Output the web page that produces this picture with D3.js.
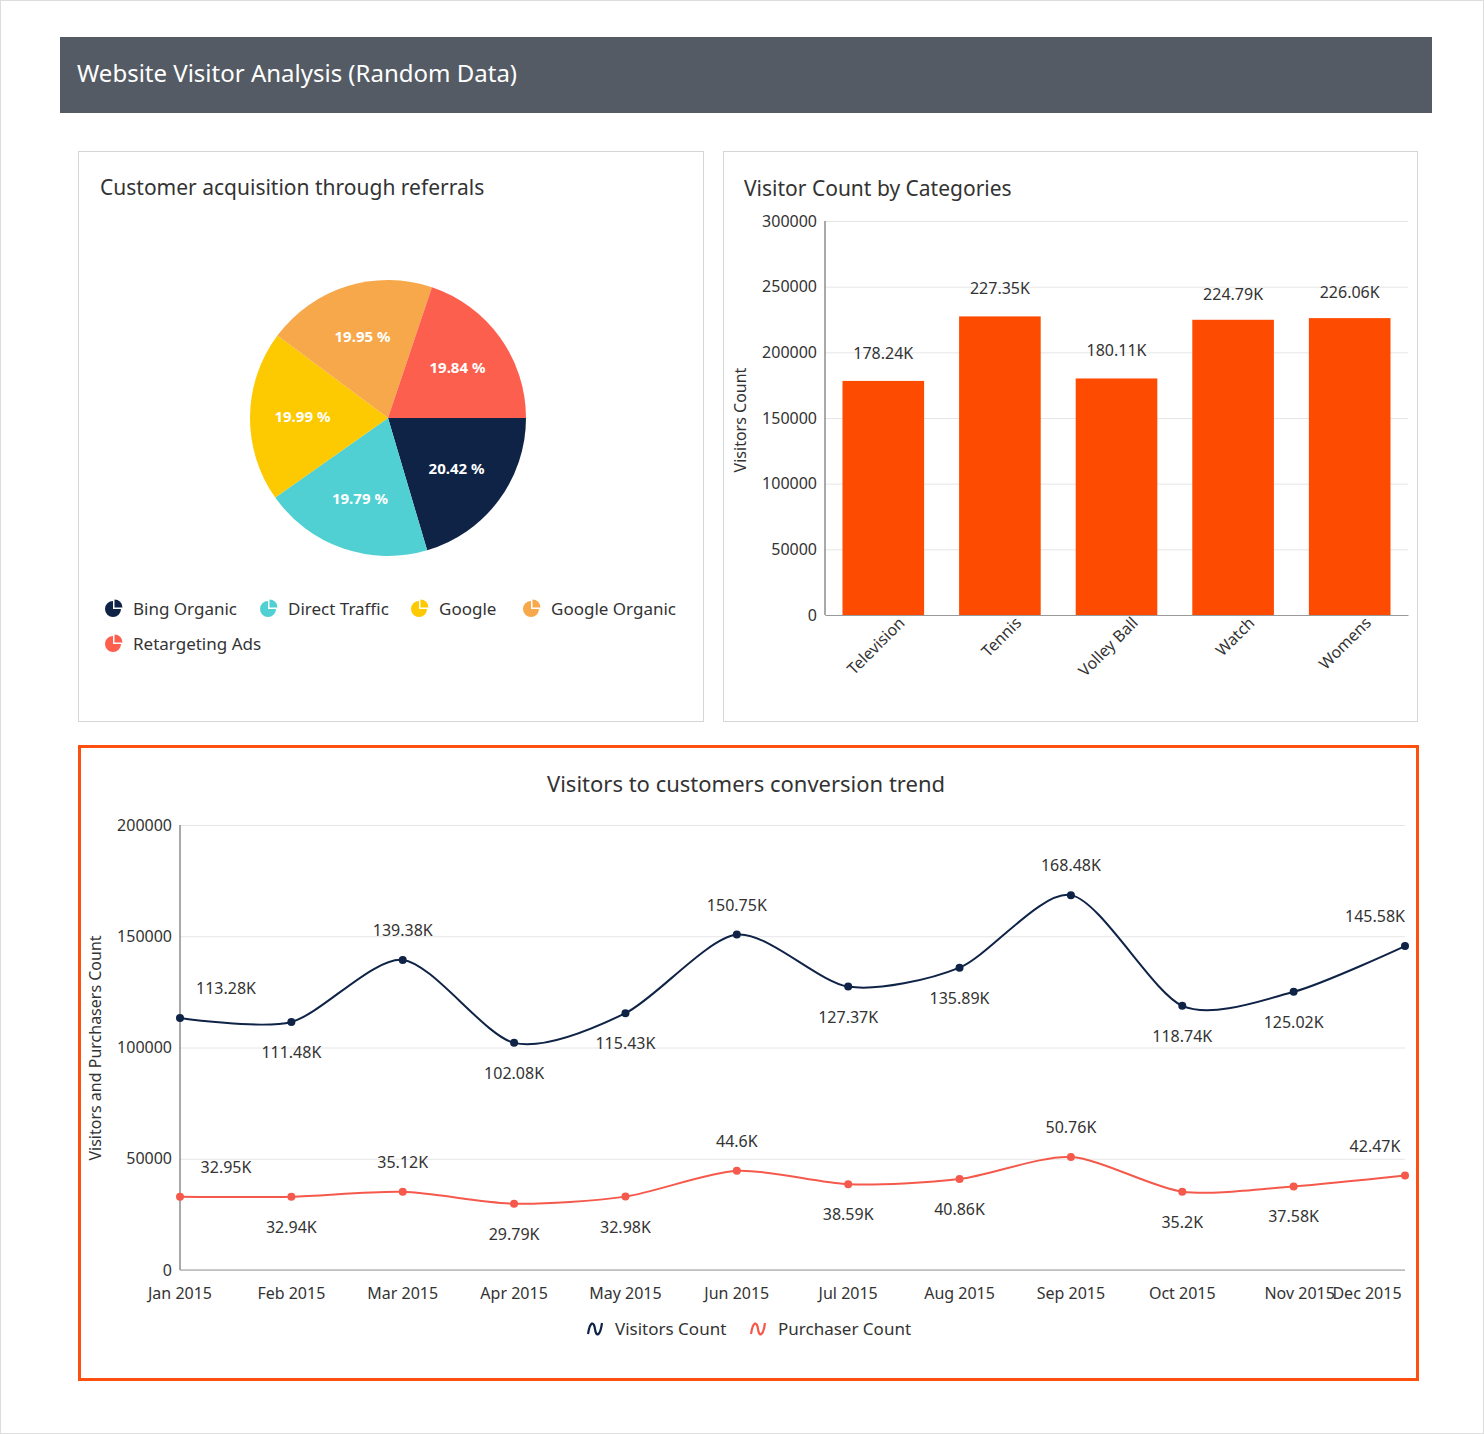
<!DOCTYPE html>
<html>
<head>
<meta charset="utf-8">
<script src="https://cdn.jsdelivr.net/npm/d3@7"></script>
<style>
  body { margin: 0; background: #fff; font-family: "Noto Sans", "Open Sans", sans-serif; }
</style>
</head>
<body>
<svg id="chart" width="1484" height="1434"></svg>
<script>
// pie data
var pieNames = ["Bing Organic", "Direct Traffic", "Google", "Google Organic", "Retargeting Ads"];
var pieValues = [20.42, 19.79, 19.99, 19.95, 19.84];
var pieColors = ["#0f2347", "#50d0d2", "#fdc900", "#f7a84b", "#fd5f4e"];

// bar data
var barCategories = ["Television", "Tennis", "Volley Ball", "Watch", "Womens"];
var barValues = [178240, 227350, 180110, 224790, 226060];
var barTicks = [0, 50000, 100000, 150000, 200000, 250000, 300000];

// line data
var months = ["Jan 2015", "Feb 2015", "Mar 2015", "Apr 2015", "May 2015", "Jun 2015",
              "Jul 2015", "Aug 2015", "Sep 2015", "Oct 2015", "Nov 2015", "Dec 2015"];
var visitors = [113280, 111480, 139380, 102080, 115430, 150750, 127370, 135890, 168480, 118740, 125020, 145580];
var purchasers = [32950, 32940, 35120, 29790, 32980, 44600, 38590, 40860, 50760, 35200, 37580, 42470];
var visitorLabelUp = [1, 0, 1, 0, 0, 1, 0, 0, 1, 0, 0, 1];
var purchaserLabelUp = [1, 0, 1, 0, 0, 1, 0, 0, 1, 0, 0, 1];
var lineTicks = [0, 50000, 100000, 150000, 200000];

var svg = d3.select("#chart");
var textColor = "#333";

function fmtK(v) { return (+(v / 1000).toFixed(2)) + "K"; }

// page frame
svg.append("rect").attr("x", 0.5).attr("y", 0.5).attr("width", 1483).attr("height", 1433)
    .attr("fill", "#fff").attr("stroke", "#ddd");
svg.append("rect").attr("x", 60).attr("y", 37).attr("width", 1372).attr("height", 76).attr("fill", "#545b64");
svg.append("text").attr("x", 77).attr("y", 82).attr("fill", "#fff").attr("font-size", 24)
    .text("Website Visitor Analysis (Random Data)");

// panels
svg.append("rect").attr("x", 78.5).attr("y", 151.5).attr("width", 625).attr("height", 570)
    .attr("fill", "#fff").attr("stroke", "#d6d6d6");
svg.append("rect").attr("x", 723.5).attr("y", 151.5).attr("width", 694).attr("height", 570)
    .attr("fill", "#fff").attr("stroke", "#d6d6d6");
svg.append("rect").attr("x", 79.5).attr("y", 746.5).attr("width", 1338).attr("height", 633)
    .attr("fill", "#fff").attr("stroke", "#fc4f10").attr("stroke-width", 3);

// ---------- pie ----------
svg.append("text").attr("x", 100).attr("y", 195).attr("fill", textColor).attr("font-size", 21)
    .text("Customer acquisition through referrals");

var pieG = svg.append("g").attr("transform", "translate(388,418)");
var r = 138;
var pie = d3.pie().sort(null).startAngle(Math.PI / 2).endAngle(Math.PI / 2 + 2 * Math.PI);
var arcs = pie(pieValues);
var arc = d3.arc().innerRadius(0).outerRadius(r);
var labelArc = d3.arc().innerRadius(r * 0.62).outerRadius(r * 0.62);

pieG.selectAll("path.slice").data(arcs).enter().append("path")
    .attr("d", arc)
    .attr("fill", function (d, i) { return pieColors[i]; });
pieG.selectAll("text.lbl").data(arcs).enter().append("text")
    .attr("transform", function (d) { return "translate(" + labelArc.centroid(d) + ")"; })
    .attr("text-anchor", "middle").attr("dy", "0.35em")
    .attr("fill", "#fff").attr("font-size", 15).attr("font-weight", "bold")
    .text(function (d) { return d.data.toFixed(2) + " %"; });

var legendPos = [[113, 609], [268, 609], [419, 609], [531, 609], [113, 644]];
var iconArc = d3.arc().innerRadius(0).outerRadius(8);
pieNames.forEach(function (name, i) {
    var g = svg.append("g").attr("transform", "translate(" + legendPos[i][0] + "," + legendPos[i][1] + ")");
    g.append("path").attr("d", iconArc({ startAngle: Math.PI / 2, endAngle: 2 * Math.PI })).attr("fill", pieColors[i]);
    g.append("path").attr("d", iconArc({ startAngle: 0, endAngle: Math.PI / 2 }))
        .attr("transform", "translate(1.5,-1.5)").attr("fill", pieColors[i]);
    g.append("text").attr("x", 20).attr("y", 6).attr("fill", textColor).attr("font-size", 17).text(name);
});

// ---------- bar ----------
svg.append("text").attr("x", 744).attr("y", 196).attr("fill", textColor).attr("font-size", 21)
    .text("Visitor Count by Categories");

var bx = d3.scaleBand().domain(barCategories).range([825, 1408]).paddingInner(0.3).paddingOuter(0.15);
var by = d3.scaleLinear().domain([0, 300000]).range([615, 221]);
var barG = svg.append("g");

barG.append("g").attr("transform", "translate(825,0)")
    .call(d3.axisLeft(by).tickValues(barTicks).tickSize(-583).tickFormat(d3.format("d")))
    .call(function (g) {
        g.select(".domain").remove();
        g.selectAll(".tick line").attr("stroke", "#e6e6e6");
        g.selectAll(".tick text").attr("x", -8).attr("fill", textColor).attr("font-size", 16)
            .attr("font-family", "Noto Sans, Open Sans, sans-serif");
    });
barG.append("line").attr("x1", 825).attr("x2", 825).attr("y1", 221).attr("y2", 615).attr("stroke", "#555");
barG.append("g").attr("transform", "translate(0,615)")
    .call(d3.axisBottom(bx).tickSize(0))
    .call(function (g) {
        g.select(".domain").attr("stroke", "#999");
        g.selectAll(".tick text").attr("fill", textColor).attr("font-size", 16)
            .attr("font-family", "Noto Sans, Open Sans, sans-serif")
            .attr("text-anchor", "end").attr("dx", "0.6em").attr("dy", "1.2em")
            .attr("transform", "rotate(-45)");
    });
barG.selectAll("rect.bar").data(barValues).enter().append("rect")
    .attr("x", function (d, i) { return bx(barCategories[i]); })
    .attr("y", function (d) { return by(d); })
    .attr("width", bx.bandwidth())
    .attr("height", function (d) { return 615 - by(d); })
    .attr("fill", "#fd4c02");
barG.selectAll("text.val").data(barValues).enter().append("text")
    .attr("x", function (d, i) { return bx(barCategories[i]) + bx.bandwidth() / 2; })
    .attr("y", function (d, i) { return by(d) - (i >= 3 ? 20 : 22); })
    .attr("text-anchor", "middle").attr("fill", textColor).attr("font-size", 16)
    .text(fmtK);
svg.append("text").attr("transform", "translate(746,420) rotate(-90)").attr("text-anchor", "middle")
    .attr("fill", textColor).attr("font-size", 16).text("Visitors Count");

// ---------- line ----------
svg.append("text").attr("x", 746).attr("y", 792).attr("text-anchor", "middle")
    .attr("fill", textColor).attr("font-size", 22).text("Visitors to customers conversion trend");

var lx = d3.scalePoint().domain(months).range([180, 1405]);
var ly = d3.scaleLinear().domain([0, 200000]).range([1270, 825]);
var lineG = svg.append("g");

lineG.append("g").attr("transform", "translate(180,0)")
    .call(d3.axisLeft(ly).tickValues(lineTicks).tickSize(-1225).tickFormat(d3.format("d")))
    .call(function (g) {
        g.select(".domain").remove();
        g.selectAll(".tick line").attr("stroke", "#e6e6e6");
        g.selectAll(".tick text").attr("x", -8).attr("fill", textColor).attr("font-size", 16)
            .attr("font-family", "Noto Sans, Open Sans, sans-serif");
    });
lineG.append("line").attr("x1", 180).attr("x2", 180).attr("y1", 825).attr("y2", 1270).attr("stroke", "#555");
lineG.append("line").attr("x1", 180).attr("x2", 1405).attr("y1", 1270).attr("y2", 1270).attr("stroke", "#999");
months.forEach(function (m, i) {
    var x = lx(m);
    if (i === months.length - 1) x -= 38;
    if (i === months.length - 2) x += 6;
    lineG.append("text").attr("x", x).attr("y", 1299).attr("text-anchor", "middle")
        .attr("fill", textColor).attr("font-size", 16).text(m);
});
svg.append("text").attr("transform", "translate(101,1048) rotate(-90)").attr("text-anchor", "middle")
    .attr("fill", textColor).attr("font-size", 16).text("Visitors and Purchasers Count");

function drawSeries(values, ups, color) {
    var line = d3.line().x(function (d, i) { return lx(months[i]); }).y(function (d) { return ly(d); })
        .curve(d3.curveCardinal.tension(0.2));
    lineG.append("path").datum(values).attr("d", line).attr("fill", "none")
        .attr("stroke", color).attr("stroke-width", 2);
    values.forEach(function (v, i) {
        var x = lx(months[i]), y = ly(v);
        lineG.append("circle").attr("cx", x).attr("cy", y).attr("r", 4).attr("fill", color);
        var tx = x;
        if (i === 0) tx += 46;
        if (i === values.length - 1) tx -= 30;
        lineG.append("text").attr("x", tx).attr("y", ups[i] ? y - 24 : y + 36)
            .attr("text-anchor", "middle").attr("fill", textColor).attr("font-size", 16).text(fmtK(v));
    });
}
drawSeries(visitors, visitorLabelUp, "#0f2347");
drawSeries(purchasers, purchaserLabelUp, "#f5594b");

// line legend
[["Visitors Count", "#0f2347", 588], ["Purchaser Count", "#f5594b", 751]].forEach(function (d) {
    var g = svg.append("g").attr("transform", "translate(" + d[2] + ",1329)");
    g.append("path").attr("d", "M0,5 C2,-8 6,-8 7,0 C8,8 12,8 14,-6")
        .attr("fill", "none").attr("stroke", d[1]).attr("stroke-width", 2.2);
    g.append("text").attr("x", 27).attr("y", 6).attr("fill", textColor).attr("font-size", 17).text(d[0]);
});
</script>
</body>
</html>
